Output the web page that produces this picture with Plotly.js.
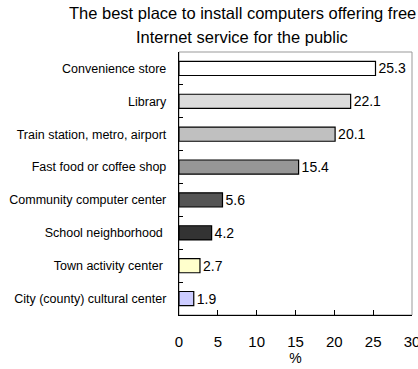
<!DOCTYPE html>
<html>
<head>
<meta charset="utf-8">
<script src="https://cdn.plot.ly/plotly-3.0.1.min.js"></script>
<style>html,body{margin:0;padding:0;background:#fff;}#chart{width:418px;height:369px;}</style>
</head>
<body>
<div id="chart"></div>
<script>
const categories = [
  "Convenience store",
  "Library",
  "Train station, metro, airport",
  "Fast food or coffee shop",
  "Community computer center",
  "School neighborhood ",
  "Town activity center ",
  "City (county) cultural center"
];
const values = [25.3, 22.1, 20.1, 15.4, 5.6, 4.2, 2.7, 1.9];
const barColors = ["#ffffff", "#dcdcdc", "#c0c0c0", "#969696", "#555555", "#333333", "#ffffcc", "#ccccff"];
const xTicks = [0, 5, 10, 15, 20, 25, 30];
const titleLines = ["The best place to install computers offering free", "Internet service for the public"];

const trace = {
  type: "bar",
  orientation: "h",
  y: categories,
  x: values,
  text: values.map(v => v.toFixed(1)),
  textposition: "outside",
  constraintext: "none",
  cliponaxis: false,
  textfont: {family: "Arial, Liberation Sans, sans-serif", size: 14, color: "#000"},
  marker: {color: barColors, line: {color: "#000", width: 1.2}},
  hoverinfo: "none"
};

const layout = {
  width: 418, height: 369,
  margin: {l: 179, r: 6, t: 52, b: 54},
  paper_bgcolor: "#fff",
  plot_bgcolor: "rgba(0,0,0,0)",
  font: {family: "Arial, Liberation Sans, sans-serif", color: "#000"},
  bargap: 0.57,
  showlegend: false,
  xaxis: {
    range: [0, 30],
    tickvals: xTicks,
    ticktext: xTicks.map(String),
    ticks: "inside", ticklen: 5, tickcolor: "#000",
    showgrid: false, zeroline: false,
    showline: true, linecolor: "#000", linewidth: 1.2,
    tickfont: {size: 15},
    ticklabelstandoff: 13,
    ticklabeloverflow: "allow",
    title: {text: "%", font: {size: 14}, standoff: 0}
  },
  yaxis: {
    type: "category",
    autorange: "reversed",
    ticks: "inside", ticklen: 4, tickcolor: "#000",
    tickson: "boundaries",
    showgrid: false, zeroline: false,
    showline: true, linecolor: "#000", linewidth: 1.2,
    tickfont: {size: 12.5},
    ticklabelstandoff: 9
  },
  shapes: [{
    type: "rect", xref: "paper", yref: "paper",
    x0: 0, x1: 1, y0: 0, y1: 1,
    line: {color: "#999", width: 1}, layer: "below"
  }],
  annotations: titleLines.map((t, i) => ({
    text: t, xref: "paper", yref: "paper",
    x: (242 - 179) / (418 - 179 - 6), y: 1, xanchor: "center", yanchor: "bottom",
    yshift: 28 - i * 24, showarrow: false,
    font: {size: 16.5, color: "#000"}
  }))
};

Plotly.newPlot("chart", [trace], layout, {displayModeBar: false, staticPlot: true});
</script>
</body>
</html>
